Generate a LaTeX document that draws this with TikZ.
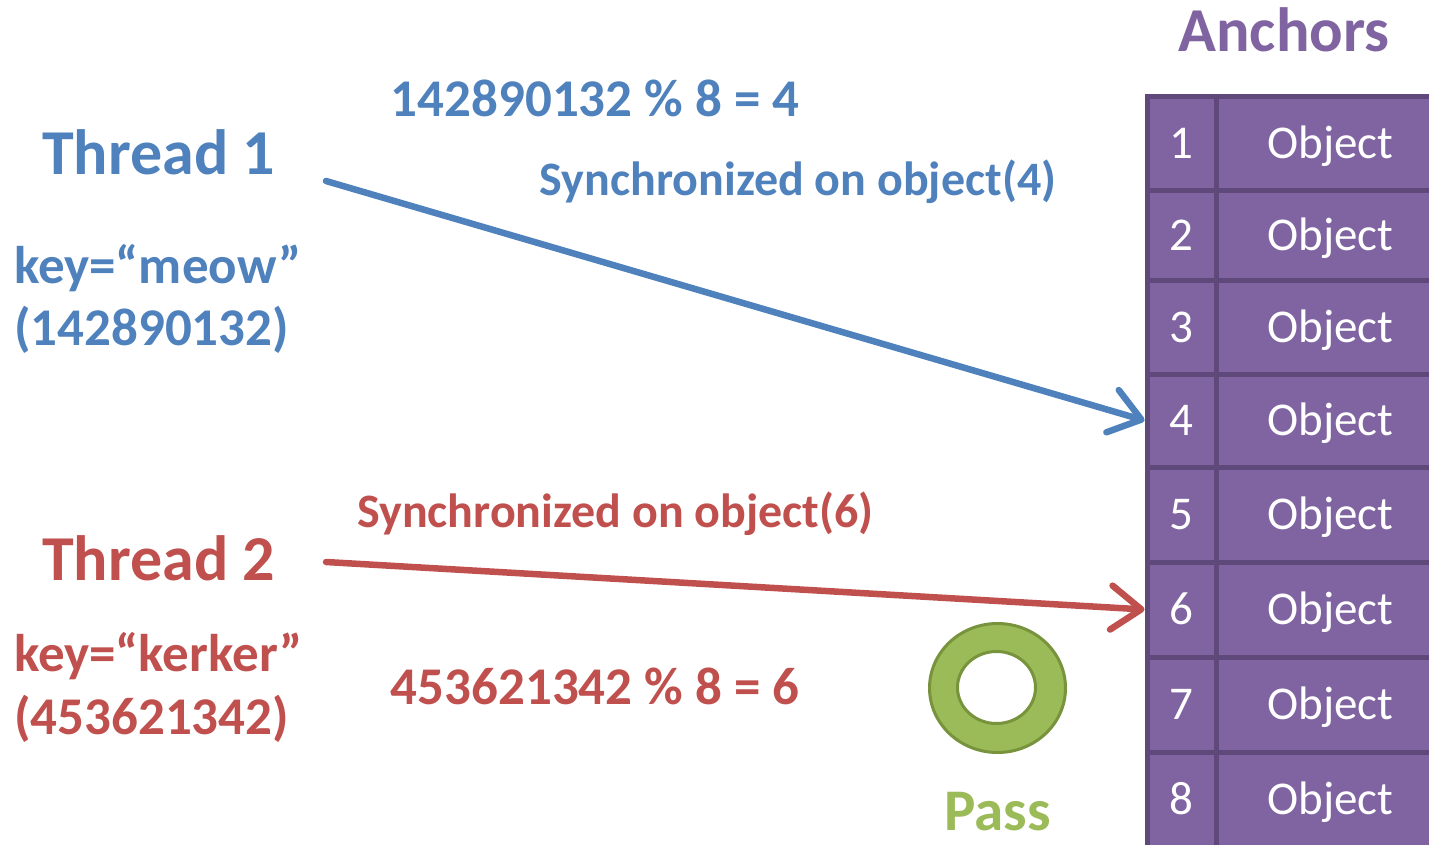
\documentclass[tikz,border=0pt]{standalone}
\usepackage{fontspec}
\setmainfont{Carlito}
\usetikzlibrary{arrows.meta}
\definecolor{cblue}{HTML}{4F81BD}
\definecolor{cred}{HTML}{C0504D}
\definecolor{cgreen}{HTML}{9BBB59}
\definecolor{cgreendark}{HTML}{77933C}
\definecolor{cpurple}{HTML}{8064A2}
\definecolor{cpurpledark}{HTML}{5F497A}
\begin{document}
\begin{tikzpicture}[x=1pt,y=-1pt,
  bigtxt/.style={font=\fontsize{64}{70}\selectfont\bfseries, inner sep=0pt},
  midtxt/.style={font=\fontsize{53}{60}\selectfont\bfseries, inner sep=0pt},
  synctxt/.style={font=\fontsize{48}{54}\selectfont\bfseries, inner sep=0pt},
  cell/.style={draw=cpurpledark, fill=cpurple, line width=5pt, text=white,
    font=\fontsize{47}{50}\selectfont, inner sep=0pt, text height=30pt, text depth=0pt},
  conn/.style={line width=6.5pt, line cap=round,
    -{Straight Barb[length=30pt,width=44pt,line cap=round,line join=round]}},
]
\useasboundingbox (0,0) rectangle (1429,845);
\clip (0,0) rectangle (1429,845);

% table
\foreach \i/\t/\b in {1/97/191,2/191/280,3/280/374,4/374/467,5/467/562,6/562/657,7/657/752,8/752/847}{
  \node[cell, minimum width=69pt, minimum height={\b-\t}] (n\i) at (1181.5,{(\t+\b)/2}) {\i};
  \node[cell, minimum width=229pt, minimum height={\b-\t}] (o\i) at (1330.5,{(\t+\b)/2}) {Object};
}
\node[font=\fontsize{62.5}{68}\selectfont\bfseries, text=cpurple, inner sep=0pt, anchor=base] (anch) at (1284,52) {Anchors};

% thread 1
\node[bigtxt, text=cblue, anchor=base west] (th1) at (42,175) {Thread 1};
\node[midtxt, text=cblue, anchor=base west] (k1) at (14,283) {key=“meow”};
\node[midtxt, text=cblue, anchor=base west] (h1) at (14,345) {(142890132)};
\node[midtxt, text=cblue, anchor=base] (m1) at (595,117) {142890132 \% 8 = 4};
\node[synctxt, text=cblue, anchor=base] (s1) at (798,196) {Synchronized on object(4)};

% thread 2
\node[bigtxt, text=cred, anchor=base west] (th2) at (42,580) {Thread 2};
\node[midtxt, text=cred, anchor=base west] (k2) at (14,671) {key=“kerker”};
\node[midtxt, text=cred, anchor=base west] (h2) at (14,734) {(453621342)};
\node[midtxt, text=cred, anchor=base] (m2) at (595,704) {453621342 \% 8 = 6};
\node[synctxt, text=cred, anchor=base] (s2) at (615.5,527) {Synchronized on object(6)};

% connectors
\coordinate (t1out) at (326,181);
\coordinate (t2out) at (326,562);
\draw[conn, cblue] (t1out) -- (n4.west);
\draw[conn, cred] (t2out) -- (n6.west);

% ring
\path[fill=cgreen, draw=cgreendark, line width=3pt, even odd rule]
  (997.5,688) ellipse [x radius=68, y radius=64.5]
  (996.5,687.5) ellipse [x radius=39, y radius=36];
\node[font=\fontsize{59}{64}\selectfont\bfseries, text=cgreen, inner sep=0pt, anchor=base] (pass) at (997.5,830) {Pass};
\end{tikzpicture}
\end{document}
